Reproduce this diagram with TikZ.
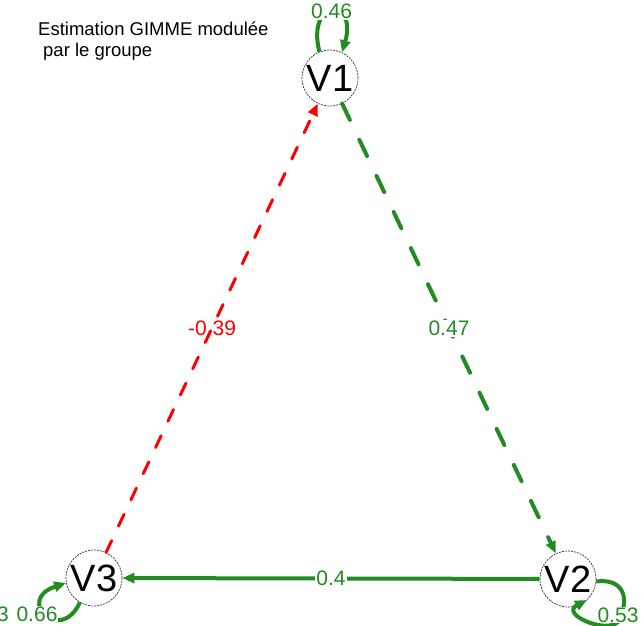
\documentclass[tikz,border=0pt]{standalone}
\usepackage{fontspec}
\setmainfont{Liberation Sans}
\usetikzlibrary{arrows.meta, positioning}
\definecolor{posgreen}{RGB}{34,139,34}
\definecolor{negred}{RGB}{255,0,0}

\begin{document}
\begin{tikzpicture}[
        x=1pt, y=1pt,
        varnode/.style={circle, draw=black!80, line width=0.7pt, dash pattern=on 2pt off 1pt, fill=white, minimum size=56pt, inner sep=0pt, font=\fontsize{38}{40}\selectfont},
        tip/.style={-{Triangle[length=12pt, width=10pt]}},
        posedge/.style={tip, draw=posgreen, line width=4pt},
        negedge/.style={tip, draw=negred, line width=3pt},
        weight/.style={font=\fontsize{21}{23}\selectfont, inner sep=1pt},
        title/.style={font=\fontsize{18.5}{21}\selectfont, inner sep=0pt, anchor=base west}
    ]
    \useasboundingbox (0,0) rectangle (641,626);

    % Title
    \node [title] (title1) at (38,590) {Estimation GIMME modulée};
    \node [title] (title2) at (43,569) {par le groupe};

    % Variables
    \node [varnode] (v1) at (330,548) {V1};
    \node [varnode] (v2) at (568,47) {V2};
    \node [varnode] (v3) at (94,48) {V3};

    % Paths between variables
    \draw [posedge, dash pattern=on 18pt off 22pt, line cap=round] (v1) -- node[weight, fill=white, text=posgreen] {0.47} (v2);
    \draw [negedge, dash pattern=on 13pt off 16pt, line cap=round] (v3) -- node[weight, text=negred] {-0.39} (v1);
    \draw [posedge] (v2) -- node[weight, fill=white, text=posgreen] {0.4} (v3);

    % Autoregressive loops
    \draw [posedge] (v1.112) .. controls (306,628) and (358,628) .. node[weight, fill=white, text=posgreen] {0.46} (v1.65);
    \draw [posedge] (v2.-5) .. controls (625,48) and (630,26) .. (618,4) .. controls (605,-8) and (560,12) .. (v2.-48);
    \node [weight, fill=white, text=posgreen] (w22) at (618,11) {0.53};
    \draw [posedge] (v3.240) .. controls (60,-19) and (15,26) .. (v3.190);
    \node [weight, fill=white, text=posgreen] (w33) at (37,12) {0.66};
    \node [weight, text=posgreen, anchor=east] (w33b) at (10,12) {3};

\end{tikzpicture}
\end{document}
